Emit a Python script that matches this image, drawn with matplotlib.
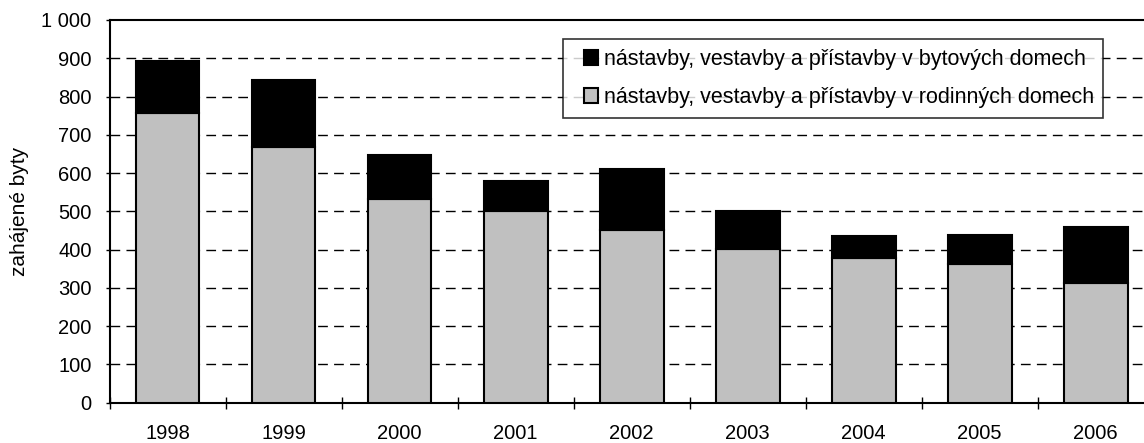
import numpy as np
import matplotlib
matplotlib.use("Agg")
import matplotlib.pyplot as plt
from matplotlib.ticker import FuncFormatter, FixedLocator
from matplotlib.legend_handler import HandlerPatch
from matplotlib.patches import Rectangle

plt.rcParams['font.family'] = ['Liberation Sans', 'DejaVu Sans']

years = ['1998', '1999', '2000', '2001', '2002', '2003', '2004', '2005', '2006']
rodinne = [757, 669, 533, 501, 452, 402, 379, 362, 312]
celkem = [894, 842, 647, 580, 610, 500, 435, 438, 458]
bytove = [c - r for c, r in zip(celkem, rodinne)]

label_byt = 'nástavby, vestavby a přístavby v bytových domech'
label_rod = 'nástavby, vestavby a přístavby v rodinných domech'


def square_patch(legend, orig_handle, xdescent, ydescent, width, height, fontsize):
    # small square pushed to the right end of the handle box
    s = height
    return Rectangle((width - s - xdescent, -ydescent), s, s)


fig = plt.figure(figsize=(11.44, 4.43), dpi=100)
# plot area runs past the right edge of the picture, as in the original
ax = fig.add_axes([0.0958, 0.091, 0.9126, 0.8639])

x = np.arange(len(years))
w = 0.55
b_rod = ax.bar(x, rodinne, w, color='#c0c0c0', edgecolor='black', linewidth=1.5, zorder=3, label=label_rod)
b_byt = ax.bar(x, bytove, w, bottom=rodinne, color='black', edgecolor='black', linewidth=1.5, zorder=3, label=label_byt)

ax.set_xlim(-0.5, len(years) - 0.5)
ax.set_ylim(0, 1000)
ax.set_yticks(np.arange(0, 1001, 100))
ax.yaxis.set_major_formatter(FuncFormatter(lambda v, p: f"{int(v):,}".replace(',', ' ')))
for yv in range(100, 1000, 100):
    ax.axhline(yv, color='black', linestyle=(0, (7, 4.5)), linewidth=1.0, zorder=1)

# category labels centred, tick marks at category boundaries
ax.xaxis.set_major_locator(FixedLocator(np.arange(-0.5, len(years), 1)))
ax.xaxis.set_minor_locator(FixedLocator(x))
ax.set_xticklabels([])
ax.set_xticklabels(years, minor=True)
ax.tick_params(axis='x', which='major', direction='inout', length=8.6, width=1)
ax.tick_params(axis='x', which='minor', length=0, pad=15, labelsize=14.5)
ax.tick_params(axis='y', direction='out', length=3, width=1, labelsize=14.5, pad=10)

for s in ax.spines.values():
    s.set_color('black')
    s.set_linewidth(1.5)
ax.spines['right'].set_visible(False)

ax.set_ylabel('zahájené byty', fontsize=15, labelpad=9)

leg = ax.legend(handles=[b_byt[0], b_rod[0]], labels=[label_byt, label_rod],
                loc='upper left', bbox_to_anchor=(0.4924, 0.9113), bbox_transform=fig.transFigure,
                fontsize=15.5, frameon=True, fancybox=False, borderaxespad=0,
                handlelength=1.18, handleheight=0.66, handletextpad=0.24,
                labelspacing=0.8, borderpad=0.45,
                handler_map={Rectangle: HandlerPatch(patch_func=square_patch)})
leg.get_frame().set_edgecolor('black')
leg.get_frame().set_linewidth(1.2)
leg.set_zorder(5)

fig.savefig('out.png', dpi=100)
